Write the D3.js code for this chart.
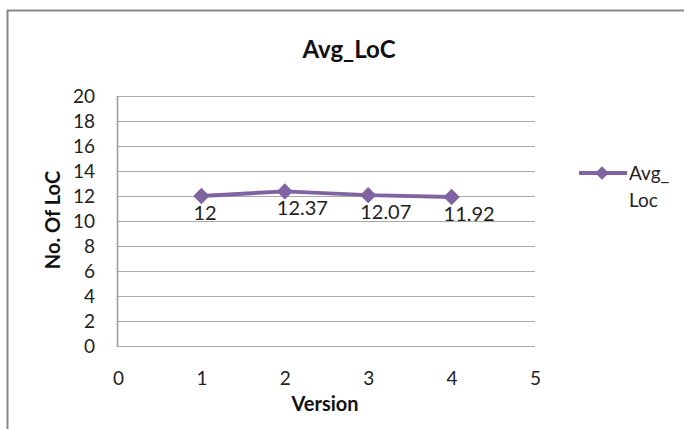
<!DOCTYPE html>
<html><head><meta charset="utf-8">
<script src="https://cdn.jsdelivr.net/npm/d3@7"></script>
<style>body{margin:0;background:#fff}svg{display:block;font-family:Lato,"Open Sans",sans-serif}</style>
</head><body><svg id="c" width="684" height="429"></svg>
<script>
const versions = [1, 2, 3, 4];
const avgLoc = [12, 12.37, 12.07, 11.92];
const labels = ["12", "12.37", "12.07", "11.92"];
const yTicks = [0, 2, 4, 6, 8, 10, 12, 14, 16, 18, 20];
const xTicks = [0, 1, 2, 3, 4, 5];
const seriesName = ["Avg_", "Loc"];
const color = "#8064A2";

const svg = d3.select("#c");
// outer chart border
svg.append("path").attr("d", "M7.5,429V10.5H684").attr("fill", "none").attr("stroke", "#888").attr("stroke-width", 2);

const x = d3.scaleLinear().domain([0, 5]).range([118, 535]);
const y = d3.scaleLinear().domain([0, 20]).range([346, 96]);

// gridlines
svg.append("g").selectAll("line").data(yTicks).join("line")
  .attr("x1", x(0)).attr("x2", x(5)).attr("y1", d => y(d) + 0.5).attr("y2", d => y(d) + 0.5)
  .attr("stroke", "#aaa").attr("stroke-width", 1);
svg.append("line").attr("x1", x(0) - 0.5).attr("x2", x(0) - 0.5).attr("y1", y(20)).attr("y2", y(0) + 1)
  .attr("stroke", "#999").attr("stroke-width", 1.5);

// axes labels
const yAxis = d3.axisLeft(y).tickValues(yTicks).tickSize(0).tickPadding(23);
const gy = svg.append("g").attr("transform", `translate(${x(0)},0)`).call(yAxis);
gy.select(".domain").remove();
gy.selectAll("text").attr("font-size", 19).attr("fill", "#222").attr("font-family", "Lato");

const xAxis = d3.axisBottom(x).tickValues(xTicks).tickFormat(d3.format("d")).tickSize(0).tickPadding(26);
const gx = svg.append("g").attr("transform", `translate(0,${y(0)})`).call(xAxis);
gx.select(".domain").remove();
gx.selectAll("text").attr("font-size", 19).attr("fill", "#222").attr("font-family", "Lato");

// titles
svg.append("text").attr("x", 349).attr("y", 58).attr("text-anchor", "middle")
  .attr("font-size", 24).attr("font-weight", "bold").attr("fill", "#111").text("Avg_LoC");
svg.append("text").attr("x", 325).attr("y", 411).attr("text-anchor", "middle")
  .attr("font-size", 20).attr("font-weight", "bold").attr("fill", "#111").text("Version");
svg.append("text").attr("transform", "translate(60,220) rotate(-90)").attr("text-anchor", "middle")
  .attr("font-size", 20).attr("font-weight", "bold").attr("fill", "#111").text("No. Of LoC");

// line
const data = versions.map((v, i) => ({ v, val: avgLoc[i], lab: labels[i] }));
svg.append("path").datum(data)
  .attr("d", d3.line().x(d => x(d.v)).y(d => y(d.val)))
  .attr("fill", "none").attr("stroke", color).attr("stroke-width", 4).attr("stroke-linejoin", "round");
const diamond = d3.symbol().type(d3.symbolDiamond2).size(170);
svg.append("g").selectAll("path").data(data).join("path")
  .attr("transform", d => `translate(${x(d.v)},${y(d.val)})`)
  .attr("d", diamond).attr("fill", color);
svg.append("g").selectAll("text").data(data).join("text")
  .attr("x", d => x(d.v) - 8).attr("y", d => y(d.val) + 24)
  .attr("font-size", 20).attr("fill", "#222").text(d => d.lab);

// legend
svg.append("line").attr("x1", 579).attr("x2", 627).attr("y1", 173).attr("y2", 173)
  .attr("stroke", color).attr("stroke-width", 4);
svg.append("path").attr("transform", "translate(602,173)").attr("d", d3.symbol().type(d3.symbolDiamond2).size(120)).attr("fill", color);
svg.append("g").selectAll("text").data(seriesName).join("text")
  .attr("x", 629).attr("y", (d, i) => 180 + i * 27)
  .attr("font-size", 19).attr("fill", "#222").text(d => d);
</script></body></html>
